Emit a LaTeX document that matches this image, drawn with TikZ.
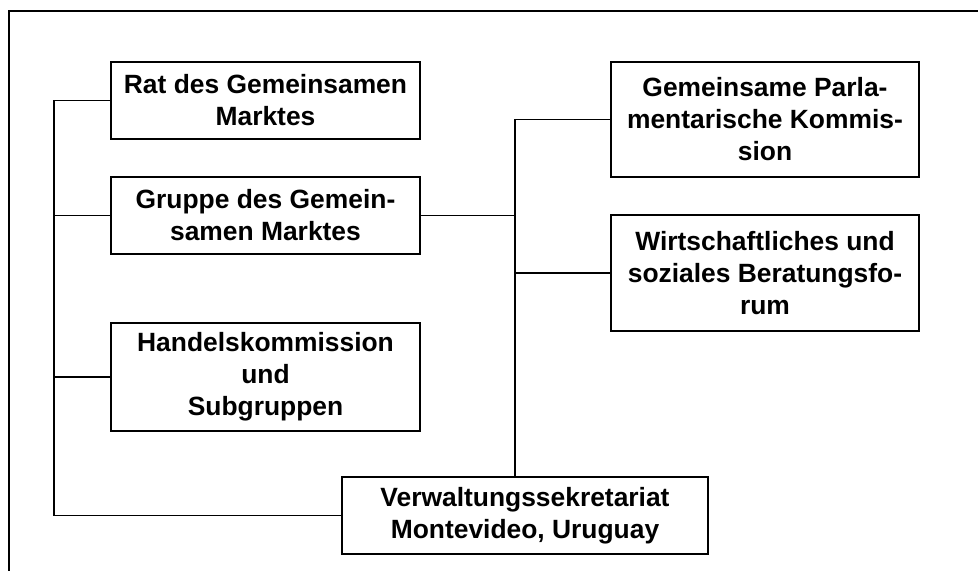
\documentclass[tikz,border=0pt]{standalone}
\usepackage{fontspec}
\setmainfont{Liberation Sans}
\begin{document}
\begin{tikzpicture}[x=0.75pt,y=-0.75pt,
  orgbox/.style={draw, line width=1.4pt, inner sep=0pt, align=center,
    font=\fontsize{19.8}{24}\selectfont\bfseries, minimum width=#1},
  link/.style={line width=0.9pt},
  frame/.style={line width=1.2pt}]
\useasboundingbox (0,0) rectangle (978,571);
\draw[frame] (9,571) -- (9,11) -- (978,11);

\node[orgbox=231.75pt, minimum height=57.75pt] (rat) at (265.5,100.5) {Rat des Gemeinsamen\\Marktes};
\node[orgbox=231.75pt, minimum height=57.75pt] (gruppe) at (265.5,215.5) {Gruppe des Gemein-\\samen Marktes};
\node[orgbox=231.75pt, minimum height=81pt] (handel) at (265.5,377) {Handelskommission\\und\\Subgruppen};
\node[orgbox=231pt, minimum height=86.25pt] (parl) at (765,119.5) {Gemeinsame Parla-\\mentarische Kommis-\\sion};
\node[orgbox=231pt, minimum height=87pt] (forum) at (765,273) {Wirtschaftliches und\\soziales Beratungsfo-\\rum};
\node[orgbox=274.5pt, minimum height=57.75pt] (sekr) at (525,515.5) {Verwaltungssekretariat\\Montevideo, Uruguay};

\coordinate (lbus) at (54,100);
\coordinate (rbus) at (515,119);

\draw[link] (rat.west) -- (rat.west -| lbus) -- (lbus |- sekr.west) -- (sekr.west);
\draw[link] (gruppe.west) -- (gruppe.west -| lbus);
\draw[link] (handel.west) -- (handel.west -| lbus);

\draw[link] (parl.west) -- (parl.west -| rbus) -- (rbus |- sekr.north);
\draw[link] (gruppe.east) -- (gruppe.east -| rbus);
\draw[link] (forum.west) -- (forum.west -| rbus);
\end{tikzpicture}
\end{document}
